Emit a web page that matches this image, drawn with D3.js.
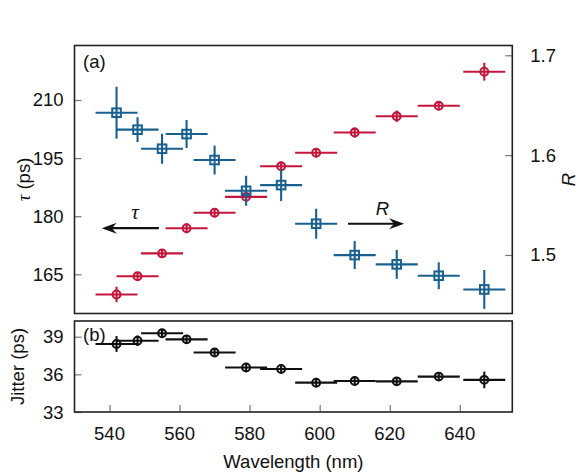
<!DOCTYPE html>
<html>
<meta charset="utf-8">
<head>
  <script src="https://d3js.org/d3.v7.min.js"></script>
  <style>
    body { margin:0; background:#fff; }
    text { font-family: "Liberation Sans", Arial, sans-serif; fill:#111; }
  </style>
</head>
<body>
<script>
    // wavelengths (nm) and the +/- spread of each bin
    var wavelength = [542, 548, 555, 562, 570, 579, 589, 599, 610, 622, 634, 647] ;
    var wlErr = 6 ;

    // (a) tau, left axis (red circles)
    var tau    = [159.8, 164.5, 170.4, 176.9, 180.9, 185.0, 192.9, 196.4, 201.6, 205.8, 208.5, 217.3] ;
    var tauErr = [2.0, 1.0, 1.0, 1.3, 1.2, 1.2, 1.2, 1.2, 1.3, 1.5, 1.2, 2.3] ;

    // (a) R, right axis (blue squares)
    var ratio    = [1.6425, 1.6255, 1.6064, 1.6211, 1.5951, 1.5643, 1.5700, 1.5313, 1.4999, 1.4906, 1.4792, 1.4655] ;
    var ratioErr = [0.026, 0.0125, 0.015, 0.014, 0.0145, 0.015, 0.016, 0.015, 0.014, 0.0145, 0.0135, 0.0195] ;

    // (b) jitter
    var jitter    = [38.42, 38.68, 39.27, 38.79, 37.74, 36.55, 36.43, 35.34, 35.47, 35.44, 35.82, 35.56] ;
    var jitterErr = [0.63, 0.42, 0.34, 0.35, 0.35, 0.35, 0.35, 0.38, 0.35, 0.35, 0.35, 0.66] ;

    var xTicks   = [540, 560, 580, 600, 620, 640] ;
    var tauTicks = [165, 180, 195, 210] ;
    var rTicks   = [1.5, 1.6, 1.7] ;
    var jTicks   = [33, 36, 39] ;

    const red = '#c4163c', blue = '#18608f', black = '#111' ;
    const L = 74.5, R = 512.3 ;
    const topA = 45.5, botA = 313.5, topB = 321, botB = 412 ;

    var svg = d3.select('body').append('svg').attr('width',581).attr('height',474) ;

    var x    = d3.scaleLinear().domain([530, 655]).range([L, R]) ;
    var yTau = d3.scaleLinear().domain([154.88, 224.07]).range([botA, topA]) ;
    var yR   = d3.scaleLinear().domain([1.4414, 1.7098]).range([botA, topA]) ;
    var yJ   = d3.scaleLinear().domain([33, 40.25]).range([botB, topB]) ;

    // inward ticks, labels drawn separately
    function tickAxis(g, axis) {
	g.call(axis.tickSizeInner(-7).tickSizeOuter(0).tickFormat(''))
	g.select('.domain').remove()
	g.selectAll('line').attr('stroke','#777').attr('stroke-width',1.2)
    }

    function labels(vals, fx, fy, anchor, fmt) {
	svg.append('g').selectAll('text')
	    .data(vals)
	    .join('text')
	    .attr('x', fx).attr('y', fy)
	    .attr('text-anchor', anchor)
	    .attr('dominant-baseline','central')
	    .style('font-size','18.5px')
	    .text(fmt)
    }

    // ---- panel (a)
    svg.append('g').attr('transform',`translate(${L},0)`).call(tickAxis, d3.axisLeft(yTau).tickValues(tauTicks))
    svg.append('g').attr('transform',`translate(${R},0)`).call(tickAxis, d3.axisRight(yR).tickValues(rTicks))
    labels(tauTicks, L-11, d=>yTau(d), 'end', d=>d)
    labels(rTicks, R+18, d=>yR(d), 'start', d=>d.toFixed(1))

    // ---- panel (b)
    svg.append('g').attr('transform',`translate(${L},0)`).call(tickAxis, d3.axisLeft(yJ).tickValues(jTicks))
    svg.append('g').attr('transform',`translate(0,${botB})`).call(tickAxis, d3.axisBottom(x).tickValues(xTicks))
    labels(jTicks, L-11, d=>yJ(d), 'end', d=>d)
    labels(xTicks, d=>x(d), botB+21, 'middle', d=>d)

    function series(pts, ys, colr, shape) {
	var g = svg.append('g').attr('stroke',colr).attr('fill','none').attr('stroke-width',2.1)
	g.selectAll('line.h').data(pts).join('line')
	    .attr('x1',d=>x(d.w-wlErr)).attr('x2',d=>x(d.w+wlErr))
	    .attr('y1',d=>ys(d.v)).attr('y2',d=>ys(d.v))
	g.selectAll('line.v').data(pts).join('line')
	    .attr('x1',d=>x(d.w)).attr('x2',d=>x(d.w))
	    .attr('y1',d=>ys(d.v-d.e)).attr('y2',d=>ys(d.v+d.e))
	if (shape=='square') {
	    g.selectAll('rect').data(pts).join('rect')
		.attr('x',d=>x(d.w)-4.3).attr('y',d=>ys(d.v)-4.3)
		.attr('width',8.6).attr('height',8.6).attr('stroke-width',2)
	} else {
	    g.selectAll('circle').data(pts).join('circle')
		.attr('cx',d=>x(d.w)).attr('cy',d=>ys(d.v))
		.attr('r',3.9).attr('stroke-width',2.1)
	}
    }

    var pick = (vals, errs) => wavelength.map((w,i)=>({w:w, v:vals[i], e:errs[i]}))

    series(pick(tau,tauErr), yTau, red, 'circle')
    series(pick(ratio,ratioErr), yR, blue, 'square')
    series(pick(jitter,jitterErr), yJ, black, 'circle')

    // frames
    svg.append('rect').attr('x',L).attr('y',topA).attr('width',R-L).attr('height',botA-topA)
	.attr('fill','none').attr('stroke','#222').attr('stroke-width',1.6)
    svg.append('rect').attr('x',L).attr('y',topB).attr('width',R-L).attr('height',botB-topB)
	.attr('fill','none').attr('stroke','#222').attr('stroke-width',1.6)

    // arrows pointing to the axis each series belongs to
    function arrow(x0, x1, yy) {
	var dir = x1 < x0 ? 1 : -1
	svg.append('line').attr('x1',x0).attr('x2',x1+dir*3).attr('y1',yy).attr('y2',yy)
	    .attr('stroke','#111').attr('stroke-width',2.2)
	svg.append('path')
	    .attr('d',`M${x1},${yy} L${x1+dir*15},${yy-5.5} L${x1+dir*10},${yy} L${x1+dir*15},${yy+5.5} Z`)
	    .attr('fill','#111')
    }
    arrow(x(554.1), x(537.8), yTau(176.9))
    arrow(x(608.1), x(624.1), yR(1.5313))

    svg.append('text').attr('x',x(547.3)).attr('y',yTau(176.9)-9)
	.attr('text-anchor','middle')
	.style('font-family','"Liberation Serif", "DejaVu Serif", serif')
	.style('font-style','italic').style('font-size','21px').text('τ')
    svg.append('text').attr('x',x(617.9)).attr('y',yR(1.5313)-9)
	.attr('text-anchor','middle')
	.style('font-style','italic').style('font-size','18.5px').text('R')

    // panel tags
    svg.append('text').attr('x',83).attr('y',68).style('font-size','18.5px').text('(a)')
    svg.append('text').attr('x',83).attr('y',341).style('font-size','18.5px').text('(b)')

    // axis titles
    svg.append('text').attr('transform',`translate(30,${(topA+botA)/2}) rotate(-90)`)
	.attr('text-anchor','middle').style('font-size','18.5px')
	.html('<tspan style="font-family:\'Liberation Serif\',serif;font-style:italic">τ</tspan> (ps)')
    svg.append('text').attr('transform',`translate(575,${(topA+botA)/2}) rotate(-90)`)
	.attr('text-anchor','middle').style('font-size','18.5px').style('font-style','italic').text('R')
    svg.append('text').attr('transform',`translate(24,${(topB+botB)/2}) rotate(-90)`)
	.attr('text-anchor','middle').style('font-size','18.5px').text('Jitter (ps)')
    svg.append('text').attr('x',(L+R)/2).attr('y',468)
	.attr('text-anchor','middle').style('font-size','18.5px').text('Wavelength (nm)')
</script>
</body>
</html>
